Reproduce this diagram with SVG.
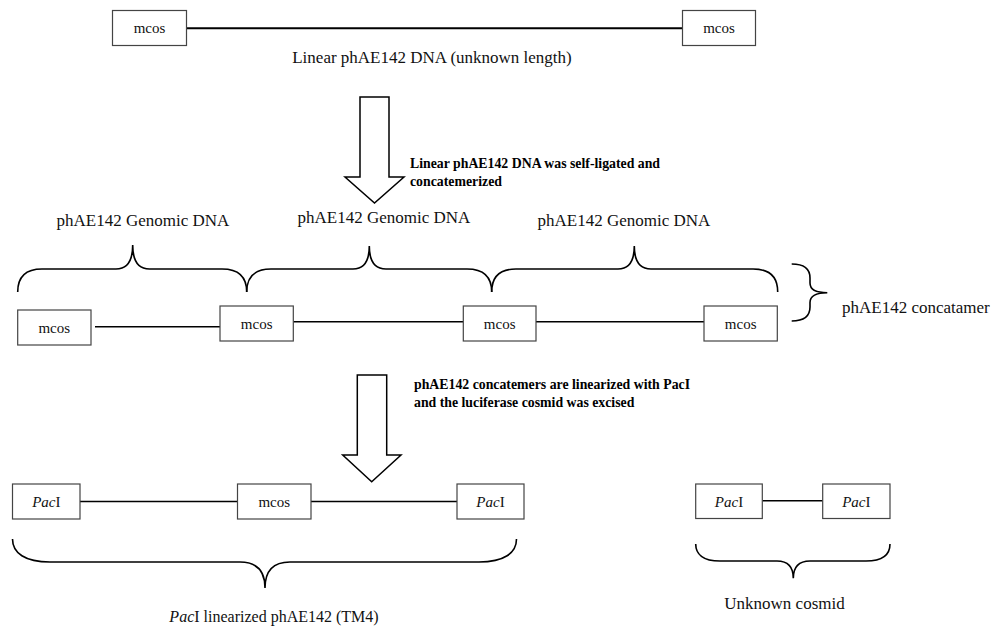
<svg xmlns="http://www.w3.org/2000/svg" width="997" height="630" viewBox="0 0 997 630">
<style>
  .box { fill: #ffffff; stroke: #444444; stroke-width: 1.2; }
  .lbl { font-family: "Liberation Serif", "Times New Roman", serif; font-size: 17px; fill: #111111; }
  .cap { font-family: "Liberation Serif", "Times New Roman", serif; font-size: 16px; fill: #111111; }
  .bx { font-family: "Liberation Serif", "Times New Roman", serif; font-size: 15px; fill: #111111; text-anchor: middle; }
  .bold { font-family: "Liberation Serif", "Times New Roman", serif; font-size: 13.8px; font-weight: bold; fill: #000000; }
  .dna { stroke: #000000; stroke-width: 1.6; fill: none; }
  .brace { stroke: #000000; stroke-width: 1.6; fill: none; }
  .arrow { fill: #ffffff; stroke: #000000; stroke-width: 1.5; stroke-linejoin: miter; }
  .it { font-style: italic; }
</style>
<rect width="997" height="630" fill="#ffffff"/>

<g id="connectors">
  <line class="dna" x1="186.5" y1="28.3" x2="682.5" y2="28.3" style="stroke-width:2"/>
  <line class="dna" x1="95" y1="326.7" x2="220" y2="326.7"/>
  <line class="dna" x1="293.3" y1="321.7" x2="463.3" y2="321.7"/>
  <line class="dna" x1="536" y1="321.7" x2="704" y2="321.7"/>
  <line class="dna" x1="80" y1="501.5" x2="237.5" y2="501.5"/>
  <line class="dna" x1="311" y1="501.5" x2="457" y2="501.5"/>
  <line class="dna" x1="762.3" y1="500.7" x2="822.7" y2="500.7"/>
</g>

<g id="top-mcos-left"><rect class="box" x="112.5" y="10.5" width="74" height="35"/><text class="bx" x="149.5" y="33">mcos</text></g>
<g id="top-mcos-right"><rect class="box" x="682.5" y="10.5" width="73" height="35"/><text class="bx" x="719" y="33">mcos</text></g>
<g id="top-caption"><text class="lbl" x="432" y="63" text-anchor="middle">Linear phAE142 DNA (unknown length)</text></g>

<g id="arrow1">
  <polygon class="arrow" points="360,97 389,97 389,177 404,177 374.5,203 345,177 360,177"/>
  <text class="bold" x="410" y="168">Linear phAE142 DNA was self-ligated and</text>
  <text class="bold" x="410" y="186">concatemerized</text>
</g>

<g id="genomic-labels">
  <text class="lbl" x="143" y="226" text-anchor="middle">phAE142 Genomic DNA</text>
  <text class="lbl" x="384" y="223" text-anchor="middle">phAE142 Genomic DNA</text>
  <text class="lbl" x="624" y="226" text-anchor="middle">phAE142 Genomic DNA</text>
</g>

<g id="braces-concat">
  <path class="brace" d="M17.7,292 C17.7,277 25,269 42,269 L116,269 C127,269 132.7,261 132.7,245 C132.7,261 138.5,269 149.5,269 L222,269 C239,269 246.7,277 246.7,292"/>
  <path class="brace" d="M246.7,292 C246.7,277 254,269 271,269 L353,269 C364,269 369.3,261 369.3,246 C369.3,261 375,269 386,269 L467,269 C484,269 491.7,277 491.7,292"/>
  <path class="brace" d="M491.7,292 C491.7,277 499,269 516,269 L618,269 C629,269 634.3,261 634.3,246 C634.3,261 640,269 651,269 L753,269 C770,269 777.7,277 777.7,292"/>
  <path class="brace" d="M791.7,264 C803,264 810,268 810,278 L810,283 C810,290 816,292.7 827.3,292.7 C816,292.7 810,295.5 810,302.5 L810,307 C810,317 803,321 791.7,321"/>
</g>
<g id="concat-label"><text class="lbl" x="842" y="313">phAE142 concatamer</text></g>

<g id="concat-mcos-1"><rect class="box" x="17.7" y="310" width="73.3" height="35"/><text class="bx" x="54.3" y="333">mcos</text></g>
<g id="concat-mcos-2"><rect class="box" x="220" y="306" width="73.3" height="35"/><text class="bx" x="256.7" y="329">mcos</text></g>
<g id="concat-mcos-3"><rect class="box" x="463.3" y="306" width="72.7" height="35"/><text class="bx" x="499.7" y="329">mcos</text></g>
<g id="concat-mcos-4"><rect class="box" x="704" y="306" width="73.3" height="35"/><text class="bx" x="740.7" y="329">mcos</text></g>

<g id="arrow2">
  <polygon class="arrow" points="357.3,375 386.7,375 386.7,455 401,455 371.7,481.7 342.7,455 357.3,455"/>
  <text class="bold" x="414" y="389">phAE142 concatemers are linearized with PacI</text>
  <text class="bold" x="414" y="407">and the luciferase cosmid was excised</text>
</g>

<g id="lin-paci-left"><rect class="box" x="12.5" y="484" width="67.5" height="35"/><text class="bx" x="46.3" y="507"><tspan class="it">Pac</tspan>I</text></g>
<g id="lin-mcos"><rect class="box" x="237.5" y="484" width="73.5" height="35"/><text class="bx" x="274.3" y="507">mcos</text></g>
<g id="lin-paci-right"><rect class="box" x="457" y="484" width="67" height="35"/><text class="bx" x="490.5" y="507"><tspan class="it">Pac</tspan>I</text></g>
<g id="lin-brace"><path class="brace" d="M12.5,539 C12.5,553 25,562 50,562 L240,562 C256,562 265,570 265,588 C265,570 274,562 290,562 L479,562 C504,562 516.5,553 516.5,539"/></g>
<g id="lin-label"><text class="cap" x="274" y="622" text-anchor="middle"><tspan class="it">Pac</tspan>I linearized phAE142 (TM4)</text></g>

<g id="cos-paci-left"><rect class="box" x="695.7" y="484" width="66.6" height="34.5"/><text class="bx" x="729" y="507"><tspan class="it">Pac</tspan>I</text></g>
<g id="cos-paci-right"><rect class="box" x="822.7" y="484" width="67.3" height="34.5"/><text class="bx" x="856.3" y="507"><tspan class="it">Pac</tspan>I</text></g>
<g id="cos-brace"><path class="brace" d="M695.7,544 C695.7,554 703,561 720,561 L777,561 C788,561 793.3,567 793.3,578.3 C793.3,567 799,561 810,561 L866,561 C883,561 890,554 890,544"/></g>
<g id="cos-label"><text class="lbl" x="784.5" y="609" text-anchor="middle">Unknown cosmid</text></g>
</svg>
